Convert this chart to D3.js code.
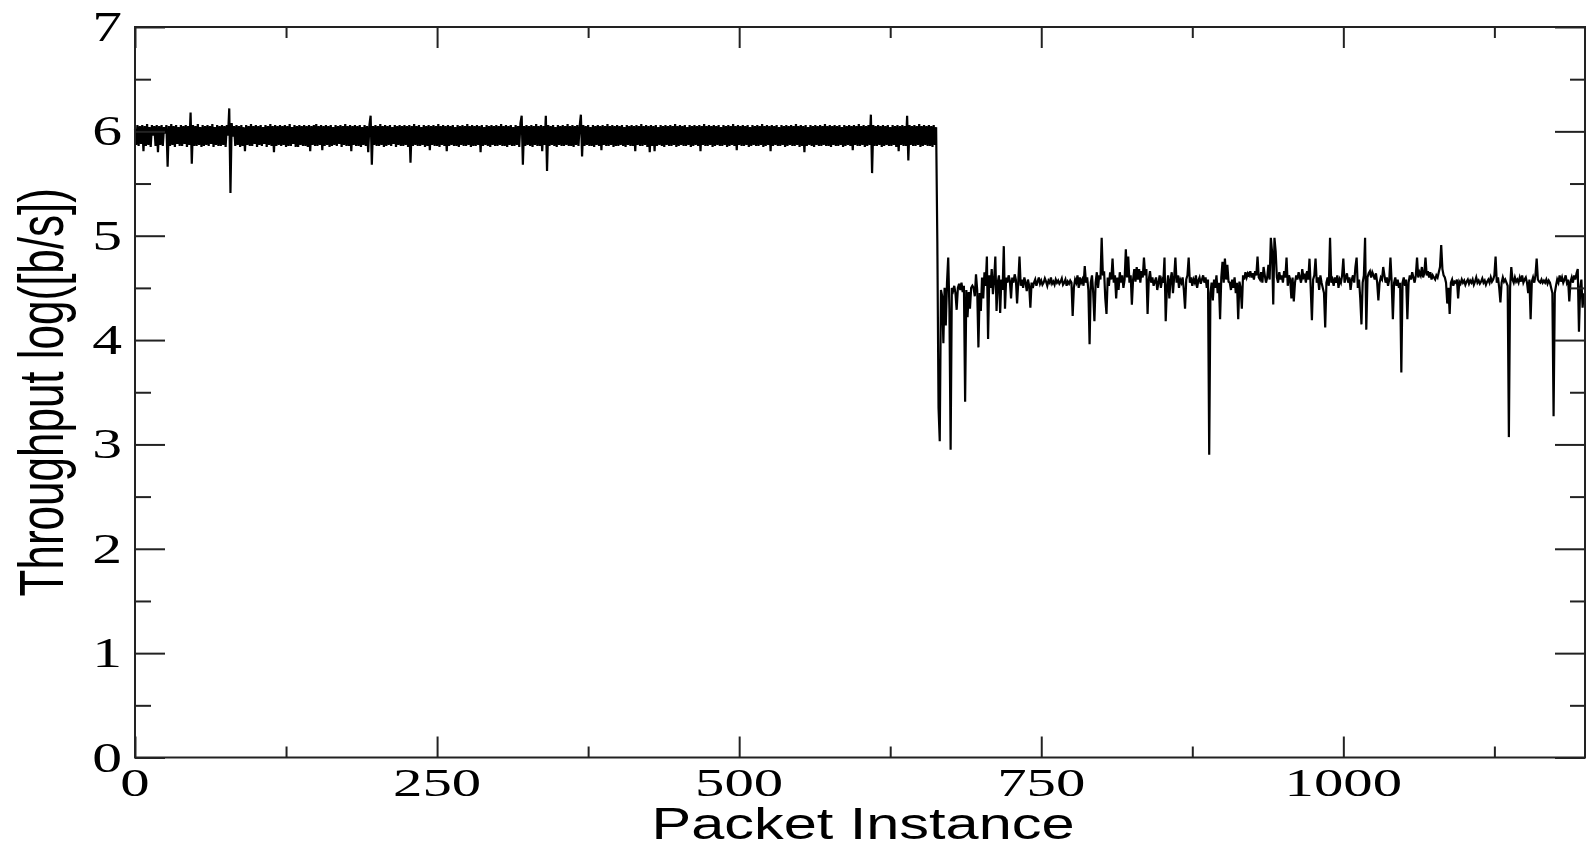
<!DOCTYPE html>
<html>
<head>
<meta charset="utf-8">
<script src="https://cdn.jsdelivr.net/npm/d3@7"></script>
<style>
  body { margin: 0; background: #fff; }
  .frame { fill: none; stroke: #222; stroke-width: 2; }
  .tick line { stroke: #222; stroke-width: 2; }
  .ticklabel { font-family: "Liberation Serif", "DejaVu Serif", serif; font-size: 42px; fill: #000; }
  .ticklabel.xl { font-size: 40px; }
  .title { font-family: "Liberation Sans", Arial, sans-serif; font-size: 44px; fill: #000; }
  .series { fill: none; stroke: #000; stroke-width: 2.2; }
</style>
</head>
<body>
<div id="chart"></div>
<script>
// throughput, log10 of b/s, one value per packet
// packets 0 .. 663, before the rate drop
var fastPhase = [
  6.02,5.87,6.06,5.86,6.05,5.88,6.06,5.81,6.05,5.86,6.07,5.87,6.04,5.85,6.06,5.96,6.05,5.86,6.06,5.80,
  6.05,5.87,6.06,5.86,6.04,5.98,6.06,5.66,6.05,5.86,6.07,5.87,6.05,5.85,6.06,5.88,6.04,5.86,6.06,5.86,
  6.05,5.88,6.06,5.85,6.05,5.87,6.18,5.69,6.06,5.86,6.05,5.86,6.07,5.87,6.04,5.85,6.06,5.86,6.05,5.87,
  6.06,5.86,6.05,5.88,6.07,5.85,6.04,5.87,6.06,5.86,6.05,5.86,6.06,5.87,6.05,5.85,6.06,5.96,6.22,5.41,
  6.08,5.95,6.05,5.86,6.06,5.87,6.05,5.85,6.06,5.86,6.04,5.81,6.06,5.87,6.05,5.86,6.07,5.86,6.05,5.88,
  6.06,5.85,6.05,5.87,6.06,5.86,6.04,5.88,6.06,5.85,6.05,5.87,6.07,5.86,6.05,5.80,6.06,5.86,6.05,5.87,
  6.06,5.86,6.05,5.87,6.06,5.85,6.05,5.86,6.07,5.86,6.04,5.88,6.06,5.85,6.05,5.85,6.06,5.87,6.05,5.86,
  6.06,5.86,6.05,5.85,6.06,5.81,6.05,5.87,6.06,5.86,6.07,5.86,6.05,5.87,6.06,5.82,6.05,5.86,6.06,5.87,
  6.05,5.85,6.06,5.86,6.04,5.87,6.06,5.86,6.05,5.88,6.06,5.85,6.05,5.87,6.07,5.86,6.05,5.86,6.06,5.81,
  6.05,5.87,6.06,5.86,6.05,5.86,6.06,5.85,6.04,5.87,6.06,5.86,6.05,5.80,6.06,6.15,5.68,6.05,5.87,6.06,
  5.86,6.05,5.86,6.07,5.87,6.05,5.85,6.06,5.86,6.05,5.87,6.06,5.86,6.04,5.88,6.06,5.85,6.05,5.87,6.06,
  5.86,6.05,5.86,6.06,5.87,6.05,5.85,6.06,5.70,6.05,5.86,6.07,5.87,6.05,5.86,6.06,5.86,6.04,5.87,6.06,
  5.85,6.05,5.86,6.06,5.82,6.05,5.87,6.06,5.86,6.05,5.86,6.07,5.85,6.05,5.87,6.06,5.86,6.05,5.81,6.06,
  5.86,6.05,5.87,6.06,5.86,6.04,5.86,6.06,5.85,6.05,5.87,6.06,5.86,6.05,5.86,6.07,5.87,6.05,5.85,6.06,
  5.86,6.05,5.86,6.06,5.87,6.05,5.80,6.06,5.86,6.04,5.87,6.06,5.86,6.05,5.85,6.06,5.87,6.05,5.86,6.06,
  5.86,6.05,5.87,6.07,5.86,6.05,5.86,6.06,5.85,6.05,5.87,6.06,5.86,6.04,5.86,6.06,5.87,6.05,5.85,6.08,
  6.15,5.68,6.05,5.86,6.06,5.87,6.05,5.86,6.06,5.85,6.05,5.87,6.07,5.86,6.05,5.86,6.06,5.81,6.05,5.87,
  6.15,5.62,6.06,5.86,6.05,5.87,6.06,5.86,6.04,5.85,6.06,5.87,6.05,5.86,6.06,5.86,6.05,5.87,6.07,5.86,
  6.05,5.86,6.06,5.85,6.05,5.87,6.06,5.86,6.05,6.16,5.76,6.06,5.86,6.05,5.87,6.06,5.86,6.04,5.86,6.06,
  5.85,6.05,5.87,6.06,5.86,6.05,5.82,6.06,5.87,6.05,5.86,6.07,5.86,6.05,5.87,6.06,5.85,6.05,5.86,6.06,
  5.86,6.05,5.87,6.06,5.86,6.04,5.85,6.06,5.87,6.05,5.86,6.06,5.86,6.05,5.81,6.06,5.87,6.05,5.86,6.07,
  5.86,6.05,5.87,6.06,5.85,6.05,5.80,6.06,5.86,6.05,5.81,6.06,5.86,6.04,5.87,6.06,5.86,6.05,5.85,6.06,
  5.87,6.05,5.86,6.06,5.86,6.05,5.87,6.07,5.85,6.05,5.86,6.06,5.87,6.05,5.86,6.06,5.86,6.04,5.87,6.06,
  5.85,6.05,5.86,6.06,5.87,6.05,5.86,6.06,5.81,6.05,5.87,6.07,5.86,6.05,5.86,6.06,5.87,6.05,5.85,6.06,
  5.86,6.05,5.87,6.06,5.86,6.04,5.86,6.06,5.87,6.05,5.85,6.06,5.86,6.05,5.87,6.07,5.86,6.05,5.82,6.06,
  5.87,6.05,5.86,6.06,5.86,6.05,5.87,6.06,5.85,6.04,5.86,6.06,5.87,6.05,5.86,6.06,5.86,6.05,5.87,6.07,
  5.85,6.05,5.86,6.06,5.87,6.05,5.81,6.06,5.86,6.05,5.87,6.06,5.86,6.04,5.86,6.06,5.87,6.05,5.85,6.06,
  5.86,6.05,5.87,6.06,5.86,6.05,5.86,6.07,5.87,6.05,5.85,6.06,5.86,6.05,5.80,6.06,5.86,6.04,5.87,6.06,
  5.86,6.05,5.85,6.06,5.87,6.05,5.86,6.06,5.86,6.05,5.87,6.07,5.86,6.05,5.86,6.06,5.85,6.05,5.87,6.06,
  5.86,6.05,5.86,6.06,5.87,6.04,5.85,6.06,5.86,6.05,5.87,6.06,5.86,6.05,5.82,6.06,5.87,6.05,5.86,6.07,
  5.86,6.05,5.87,6.06,5.85,6.05,5.86,6.06,5.87,6.16,5.60,6.06,5.86,6.05,5.86,6.06,5.87,6.05,5.85,6.06,
  5.86,6.05,5.87,6.06,5.86,6.04,5.86,6.06,5.87,6.05,5.85,6.06,5.81,6.05,5.87,6.06,5.86,6.05,5.86,6.15,
  5.72,6.06,5.87,6.05,5.86,6.06,5.86,6.05,5.87,6.07,5.85,6.05,5.86,6.06,5.87,6.05,5.86,6.06,5.86,6.05,
  5.85,6.06,5.87,6.04
];

// packets 664 .. 1199, after the drop
var slowPhase = [
  4.94,3.35,3.03,4.48,4.42,3.97,4.50,4.14,4.55,4.79,4.30,2.95,4.50,4.47,4.52,4.45,4.29,4.50,4.54,4.48,
  4.55,4.46,4.52,3.41,4.48,4.22,4.46,4.30,4.50,4.52,4.50,4.42,4.63,4.48,3.93,4.45,4.28,4.60,4.40,4.65,
  4.52,4.80,4.01,4.62,4.50,4.68,4.44,4.58,4.80,4.28,4.55,4.62,4.26,4.58,4.48,4.90,4.30,4.60,4.55,4.62,
  4.57,4.40,4.60,4.55,4.63,4.58,4.35,4.56,4.80,4.52,4.58,4.50,4.60,4.55,4.47,4.58,4.52,4.31,4.55,4.50,
  4.55,4.58,4.52,4.56,4.60,4.54,4.57,4.53,4.55,4.59,4.56,4.52,4.57,4.55,4.60,4.54,4.56,4.53,4.58,4.55,
  4.57,4.54,4.56,4.59,4.53,4.55,4.58,4.52,4.56,4.54,4.57,4.55,4.23,4.50,4.58,4.55,4.62,4.50,4.60,4.55,
  4.58,4.52,4.71,4.55,4.60,4.48,3.96,4.55,4.62,4.45,4.18,4.55,4.65,4.50,4.62,4.58,4.98,4.62,4.66,4.40,
  4.25,4.60,4.52,4.65,4.58,4.78,4.55,4.62,4.40,4.60,4.48,4.65,4.55,4.62,4.50,4.58,4.87,4.60,4.80,4.55,
  4.62,4.34,4.58,4.68,4.56,4.70,4.58,4.68,4.55,4.66,4.60,4.79,4.62,4.68,4.25,4.58,4.66,4.55,4.60,4.52,
  4.56,4.60,4.48,4.55,4.62,4.50,4.58,4.55,4.79,4.18,4.50,4.62,4.40,4.58,4.65,4.45,4.60,4.79,4.55,4.62,
  4.50,4.58,4.55,4.60,4.48,4.30,4.58,4.62,4.79,4.55,4.60,4.52,4.58,4.55,4.62,4.50,4.57,4.60,4.54,4.58,
  4.62,4.55,4.60,4.50,4.58,2.90,4.45,4.55,4.38,4.58,4.50,4.62,4.45,4.55,4.20,4.60,4.75,4.55,4.78,4.58,
  4.72,4.56,4.55,4.48,4.58,4.50,4.60,4.45,4.55,4.20,4.56,4.50,4.30,4.62,4.58,4.65,4.60,4.64,4.62,4.66,
  4.60,4.64,4.58,4.66,4.62,4.80,4.60,4.58,4.65,4.55,4.70,4.62,4.55,4.60,4.72,4.58,4.98,4.85,4.34,4.98,
  4.85,4.60,4.55,4.65,4.58,4.62,4.55,4.66,4.60,4.79,4.52,4.62,4.58,4.40,4.60,4.37,4.55,4.62,4.58,4.65,
  4.60,4.55,4.68,4.60,4.62,4.55,4.66,4.58,4.78,4.50,4.19,4.58,4.62,4.78,4.55,4.60,4.48,4.62,4.55,4.50,
  4.45,4.12,4.55,4.60,4.52,4.98,4.55,4.58,4.52,4.60,4.55,4.62,4.50,4.58,4.55,4.62,4.78,4.55,4.60,4.64,
  4.55,4.60,4.48,4.58,4.62,4.55,4.70,4.79,4.50,4.58,4.40,4.15,4.55,4.62,4.98,4.10,4.60,4.64,4.66,4.60,
  4.65,4.62,4.58,4.64,4.55,4.38,4.55,4.60,4.58,4.70,4.62,4.55,4.60,4.52,4.58,4.79,4.55,4.20,4.55,4.60,
  4.52,4.58,4.50,4.55,3.69,4.55,4.60,4.52,4.58,4.20,4.55,4.62,4.58,4.65,4.60,4.55,4.62,4.79,4.60,4.65,
  4.62,4.70,4.60,4.64,4.79,4.62,4.66,4.60,4.65,4.58,4.62,4.60,4.58,4.62,4.60,4.65,4.70,4.91,4.68,4.62,
  4.60,4.55,4.35,4.50,4.25,4.55,4.58,4.52,4.56,4.55,4.58,4.40,4.56,4.54,4.58,4.55,4.57,4.53,4.56,4.58,
  4.54,4.57,4.55,4.58,4.53,4.56,4.60,4.55,4.57,4.54,4.56,4.59,4.55,4.57,4.53,4.56,4.58,4.55,4.60,4.56,
  4.58,4.62,4.80,4.55,4.60,4.50,4.36,4.55,4.60,4.56,4.58,4.55,4.52,3.07,4.50,4.70,4.58,4.55,4.60,4.56,
  4.58,4.55,4.60,4.56,4.62,4.55,4.58,4.60,4.55,4.45,4.58,4.20,4.56,4.60,4.55,4.62,4.78,4.58,4.56,4.55,
  4.58,4.55,4.57,4.55,4.58,4.54,4.57,4.55,4.50,4.45,3.27,4.45,4.52,4.58,4.55,4.62,4.56,4.60,4.55,4.58,
  4.62,4.55,4.58,4.37,4.56,4.60,4.55,4.62,4.58,4.64,4.68,4.08,4.50,4.58,4.31,4.45
];

var xTicks = [0, 250, 500, 750, 1000];
var xMinorTicks = [125, 375, 625, 875, 1125];
var yTicks = [0, 1, 2, 3, 4, 5, 6, 7];
var yMinorTicks = [0.5, 1.5, 2.5, 3.5, 4.5, 5.5, 6.5];
var xTitle = "Packet Instance";
var yTitle = "Throughput log([b/s])";

function ThroughputPlot(placeholder, cfg)
{
    this.placeholder = placeholder;
    this.cfg = cfg;

    this.margin = {top: 27, right: 5, bottom: 90.5, left: 135};
    this.width = this.cfg.width - this.margin.left - this.margin.right;
    this.height = this.cfg.height - this.margin.top - this.margin.bottom;

    // the source image is stretched sideways, so text is too
    this.stretch = 1.42;

    this.x = d3.scaleLinear().domain([0, 1200]).range([0, this.width]);
    this.y = d3.scaleLinear().domain([0, 7]).range([this.height, 0]);

    this.draw = function draw(values) {
        var _this = this;
        var w = this.width, h = this.height, x = this.x, y = this.y;

        var svg = d3.select("#" + this.placeholder).append("svg")
            .attr("width", this.cfg.width)
            .attr("height", this.cfg.height)
          .append("g")
            .attr("transform", "translate(" + this.margin.left + "," + this.margin.top + ")");

        var line = d3.line()
            .x(function(d, i) { return x(i); })
            .y(function(d) { return y(d); });

        svg.append("path")
            .datum(values)
            .attr("class", "series")
            .attr("d", line);

        svg.append("rect")
            .attr("class", "frame")
            .attr("width", w)
            .attr("height", h);

        // inward ticks on all four sides, no labels from the axis itself
        function ticks(axis, tx, ty) {
            svg.append("g")
                .attr("transform", "translate(" + tx + "," + ty + ")")
                .call(axis.tickFormat(""))
                .call(function(g) { g.select(".domain").remove(); });
        }
        ticks(d3.axisBottom(x).tickValues(xTicks).tickSize(-21), 0, h);
        ticks(d3.axisBottom(x).tickValues(xMinorTicks).tickSize(-11), 0, h);
        ticks(d3.axisTop(x).tickValues(xTicks).tickSize(-21), 0, 0);
        ticks(d3.axisTop(x).tickValues(xMinorTicks).tickSize(-11), 0, 0);
        ticks(d3.axisLeft(y).tickValues(yTicks).tickSize(-30), 0, 0);
        ticks(d3.axisLeft(y).tickValues(yMinorTicks).tickSize(-16), 0, 0);
        ticks(d3.axisRight(y).tickValues(yTicks).tickSize(-30), w, 0);
        ticks(d3.axisRight(y).tickValues(yMinorTicks).tickSize(-15), w, 0);

        svg.selectAll(".xlabel")
            .data(xTicks).enter()
            .append("text")
                .attr("class", "ticklabel xl")
                .attr("text-anchor", "middle")
                .attr("transform", function(d) {
                    return "translate(" + x(d) + "," + (h + 38.5) + ") scale(1.47,1)";
                })
                .text(function(d) { return d; });

        svg.selectAll(".ylabel")
            .data(yTicks).enter()
            .append("text")
                .attr("class", "ticklabel")
                .attr("text-anchor", "end")
                .attr("transform", function(d) {
                    return "translate(-13," + (y(d) + 14) + ") scale(" + _this.stretch + ",1)";
                })
                .text(function(d) { return d; });

        // x title sits low on the page; keep its glyph box inside the 848px height
        svg.append("text")
            .attr("class", "title")
            .attr("text-anchor", "middle")
            .attr("x", 728)
            .attr("y", h + 81)
            .attr("textLength", 423)
            .attr("lengthAdjust", "spacingAndGlyphs")
            .text(xTitle);

        svg.append("g")
            .attr("transform", "translate(-72," + (h / 2) + ") scale(" + this.stretch + ",1)")
          .append("text")
            .attr("class", "title")
            .attr("text-anchor", "middle")
            .attr("transform", "rotate(-90)")
            .text(yTitle);
    };
}

var plot = new ThroughputPlot("chart", {width: 1590, height: 848});
plot.draw(fastPhase.concat(slowPhase));
</script>
</body>
</html>
